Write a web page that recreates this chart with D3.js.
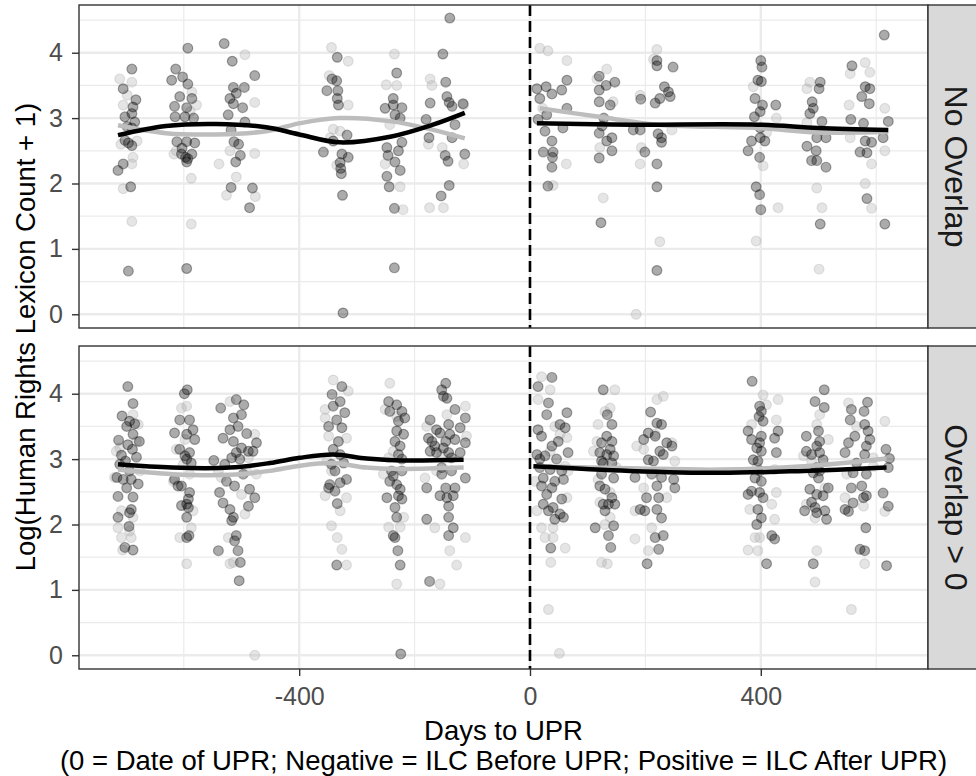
<!DOCTYPE html>
<html>
<head>
<meta charset="utf-8">
<script src="https://cdn.jsdelivr.net/npm/d3@7"></script>
<style>
  body { margin: 0; background: #fff; }
  text { font-family: "Liberation Sans", Arial, sans-serif; }
</style>
</head>
<body>
<svg id="chart" width="976" height="776"></svg>
<script>
// ---- DATA (days to UPR, log(count + 1)) ----
const facets = ["No Overlap", "Overlap > 0"];
const xTicks = [-400, 0, 400];
const xMinor = [-600, -200, 200, 600];
const yTicks = [0, 1, 2, 3, 4];
const yMinor = [0.5, 1.5, 2.5, 3.5, 4.5];

const noOverlapDark = [
  [-690,3.75],[-705,3.45],[-683,3.28],[-688,3.17],[-690,3.07],[-702,3.02],[-685,2.94],[-698,2.87],[-702,2.66],[-690,2.58],[-696,2.62],[-705,2.3],[-714,2.2],[-692,1.95],[-696,0.66],[-690,2.85],
  [-593,4.07],[-614,3.75],[-602,3.63],[-621,3.58],[-593,3.52],[-607,3.33],[-586,3.3],[-616,3.18],[-595,3.16],[-615,3.02],[-598,3.02],[-583,3.0],[-612,2.64],[-595,2.64],[-581,2.62],[-603,2.54],[-604,2.45],[-586,2.45],[-597,2.4],[-595,2.33],[-593,2.38],[-595,0.7],
  [-530,4.14],[-516,3.87],[-477,3.65],[-514,3.47],[-495,3.47],[-509,3.38],[-520,3.3],[-514,3.22],[-498,3.16],[-523,3.05],[-494,2.94],[-518,2.82],[-513,2.64],[-505,2.6],[-502,2.43],[-510,2.33],[-518,1.94],[-481,1.93],[-486,1.63],
  [-334,3.93],[-343,3.6],[-335,3.57],[-352,3.42],[-333,3.42],[-334,3.3],[-332,3.2],[-317,2.74],[-358,2.48],[-326,2.45],[-315,2.4],[-329,2.32],[-328,2.23],[-327,2.15],[-325,1.82],[-324,0.02],[-341,2.65],
  [-231,3.69],[-251,3.15],[-237,3.2],[-222,3.16],[-234,3.05],[-225,3.0],[-222,2.63],[-248,2.55],[-228,2.5],[-246,2.43],[-234,2.33],[-225,2.2],[-248,2.11],[-244,1.95],[-235,1.62],[-235,0.71],[-237,3.3],
  [-151,3.98],[-146,3.55],[-144,3.33],[-173,3.23],[-140,3.24],[-116,3.22],[-135,3.18],[-180,2.98],[-130,2.9],[-175,2.7],[-135,2.7],[-147,2.43],[-142,2.34],[-113,2.45],[-140,1.97],[-154,1.81],[-139,4.53],
  [12,3.45],[28,3.48],[38,3.37],[55,3.43],[17,3.3],[64,3.58],[29,3.05],[14,2.98],[26,2.8],[38,2.65],[40,2.48],[23,2.48],[39,2.4],[38,2.25],[31,1.96],[57,2.85],[64,3.15],
  [120,3.64],[147,3.55],[132,3.5],[120,3.43],[120,3.25],[139,3.2],[128,3.0],[125,2.88],[120,2.77],[142,2.7],[133,2.65],[142,2.5],[120,2.39],[123,1.4],
  [220,3.88],[220,3.8],[248,3.78],[233,3.48],[240,3.4],[243,3.33],[225,3.3],[217,3.23],[192,3.29],[191,2.82],[179,2.82],[222,2.76],[228,2.63],[199,2.48],[220,2.3],[220,1.95],[220,0.67],[228,2.7],
  [400,3.88],[402,3.78],[395,3.58],[401,3.56],[390,3.3],[426,3.2],[403,3.2],[399,3.1],[389,3.02],[399,2.85],[384,2.65],[407,2.65],[399,2.7],[378,2.5],[398,2.4],[392,1.95],[398,1.83],[400,1.6],
  [503,3.55],[501,3.45],[489,3.25],[491,3.15],[485,3.07],[506,2.95],[497,2.7],[513,2.7],[480,2.57],[496,2.5],[488,2.35],[497,2.35],[513,2.25],[503,1.38],
  [558,3.8],[581,3.48],[589,3.45],[575,3.33],[588,3.22],[556,2.98],[578,2.92],[581,2.65],[592,2.63],[572,2.48],[584,2.47],[584,1.77],[621,2.95],[614,4.27],[615,1.38],[612,2.7]
];

const noOverlapLight = [
  [-711,3.6],[-690,3.55],[-705,3.2],[-709,2.6],[-688,2.4],[-690,2.3],[-705,1.92],[-690,1.42],[-698,3.35],[-681,2.65],
  [-613,2.5],[-617,2.45],[-589,3.1],[-586,3.4],[-587,2.08],[-587,1.38],[-578,3.2],
  [-494,3.97],[-477,3.24],[-477,2.46],[-539,2.3],[-526,1.82],[-476,1.8],[-509,2.1],[-520,2.5],
  [-344,4.08],[-315,3.87],[-348,3.65],[-315,3.2],[-341,2.83],[-329,2.8],[-346,2.7],[-335,2.28],
  [-235,3.98],[-249,3.51],[-231,3.5],[-243,2.9],[-225,1.95],[-220,1.6],[-251,2.3],
  [-173,3.6],[-170,3.5],[-176,2.6],[-152,2.55],[-115,2.3],[-174,1.63],[-150,1.63],[-115,3.2],
  [17,4.07],[31,4.03],[64,3.88],[63,2.3],[40,1.97],[22,3.15],
  [133,3.75],[116,3.6],[127,1.78],[144,3.25],[121,2.55],
  [220,4.05],[214,3.9],[191,3.35],[246,2.82],[191,2.3],[225,1.11],[184,0.0],[193,2.55],
  [387,3.48],[427,3.0],[404,2.27],[430,1.63],[392,1.12],[410,2.78],
  [485,3.55],[480,3.45],[497,1.93],[506,1.63],[501,0.69],[480,2.93],
  [581,3.85],[589,3.7],[555,3.68],[553,3.2],[615,3.15],[555,2.7],[615,2.5],[592,2.3],[581,2.0],[592,1.62]
];

const overlapDark = [
  [-697,4.11],[-688,3.85],[-707,3.66],[-694,3.58],[-685,3.54],[-699,3.5],[-688,3.38],[-713,3.29],[-677,3.27],[-697,3.22],[-689,3.15],[-708,3.06],[-682,3.03],[-701,2.97],[-711,2.92],[-694,2.82],[-716,2.72],[-705,2.69],[-691,2.69],[-679,2.62],[-699,2.56],[-714,2.43],[-688,2.42],[-691,2.23],[-694,2.18],[-714,2.11],[-695,1.97],[-702,1.65],[-688,1.61],
  [-594,4.06],[-599,4.0],[-607,3.6],[-590,3.6],[-616,3.4],[-595,3.38],[-584,3.45],[-581,3.3],[-607,3.15],[-590,3.1],[-598,3.05],[-595,3.0],[-587,2.94],[-604,2.59],[-610,2.59],[-590,2.49],[-592,2.39],[-604,2.29],[-595,2.31],[-592,2.26],[-595,2.11],[-591,1.83],[-595,1.8],[-616,2.69],
  [-536,3.78],[-509,3.91],[-496,3.83],[-500,3.68],[-514,3.63],[-506,3.5],[-520,3.45],[-491,3.39],[-532,3.32],[-514,3.27],[-474,3.25],[-500,3.17],[-509,3.1],[-488,3.12],[-480,3.12],[-517,3.02],[-548,2.98],[-529,2.92],[-503,3.0],[-538,2.49],[-512,2.59],[-486,2.54],[-477,2.41],[-532,2.33],[-488,2.28],[-520,2.23],[-514,2.11],[-517,2.06],[-509,1.83],[-512,1.75],[-540,1.6],[-506,1.6],[-502,1.42],[-504,1.14],[-497,2.77],[-526,2.66],
  [-326,4.11],[-343,3.99],[-329,3.88],[-341,3.81],[-321,3.71],[-335,3.6],[-349,3.5],[-326,3.48],[-332,3.27],[-341,3.15],[-329,3.07],[-323,2.94],[-338,2.82],[-318,2.69],[-347,2.61],[-329,2.64],[-349,2.56],[-338,2.51],[-334,2.32],[-335,1.38],[-344,2.92],
  [-245,3.88],[-231,3.83],[-222,3.73],[-243,3.73],[-217,3.63],[-228,3.58],[-231,3.43],[-219,3.38],[-234,3.27],[-225,3.2],[-228,3.07],[-222,3.0],[-240,2.82],[-222,2.82],[-237,2.74],[-243,2.66],[-231,2.61],[-225,2.54],[-248,2.41],[-228,2.44],[-222,2.39],[-231,2.11],[-237,1.83],[-234,1.8],[-229,1.6],[-225,1.38],[-224,0.02],[-234,2.26],
  [-146,4.16],[-153,4.06],[-144,3.93],[-150,3.96],[-130,3.76],[-112,3.63],[-173,3.6],[-141,3.53],[-162,3.45],[-121,3.48],[-176,3.32],[-156,3.4],[-139,3.38],[-170,3.27],[-146,3.27],[-130,3.3],[-165,3.2],[-150,3.17],[-112,3.25],[-173,3.12],[-162,3.1],[-141,3.1],[-136,3.02],[-121,3.1],[-153,2.87],[-136,2.82],[-112,2.71],[-179,2.56],[-130,2.56],[-146,2.56],[-156,2.44],[-144,2.41],[-133,2.44],[-141,2.28],[-141,2.11],[-179,2.08],[-133,1.95],[-141,1.83],[-174,1.13],[-153,2.77],
  [38,4.25],[14,4.11],[32,3.86],[29,3.68],[64,3.71],[14,3.45],[52,3.53],[61,3.48],[20,3.35],[38,3.2],[66,3.1],[12,3.07],[26,3.05],[46,3.0],[17,2.87],[35,2.84],[55,2.82],[23,2.71],[43,2.66],[58,2.69],[20,2.59],[38,2.56],[29,2.46],[55,2.39],[23,2.31],[40,2.26],[32,2.21],[52,2.16],[58,2.11],[43,2.08],[36,1.64],[17,3.0],[49,3.27],
  [127,4.06],[134,3.68],[142,3.53],[133,3.35],[142,3.27],[124,3.25],[139,3.15],[121,3.1],[133,3.07],[145,3.05],[127,2.94],[142,2.94],[124,2.77],[145,2.71],[121,2.59],[130,2.54],[142,2.41],[127,2.31],[147,2.31],[136,2.31],[130,2.21],[113,1.95],[145,1.98],[136,1.83],[140,1.65],[124,2.97],
  [209,3.72],[220,3.55],[228,3.53],[205,3.4],[197,3.3],[217,3.35],[237,3.25],[246,3.2],[225,3.12],[205,2.99],[214,2.97],[231,3.07],[182,2.72],[211,2.77],[228,2.72],[249,2.69],[220,2.59],[251,2.56],[202,2.41],[223,2.41],[191,2.23],[199,2.21],[220,2.23],[228,2.1],[217,1.8],[231,1.83],[223,1.62],[203,1.4],
  [385,4.19],[398,3.81],[401,3.73],[397,3.65],[404,3.58],[378,3.43],[384,3.3],[401,3.35],[398,3.25],[393,3.17],[401,3.12],[387,2.99],[395,2.97],[427,3.1],[424,3.32],[430,3.43],[390,2.71],[401,2.66],[384,2.51],[398,2.49],[378,2.46],[404,2.41],[395,2.23],[401,2.1],[393,2.0],[419,1.83],[424,1.78],[410,1.4],[398,2.82],
  [510,4.06],[494,3.88],[510,3.79],[500,3.43],[479,3.35],[502,3.27],[497,3.2],[479,3.12],[488,3.07],[508,2.99],[497,2.87],[502,2.82],[491,2.79],[500,2.71],[517,2.56],[485,2.54],[497,2.46],[508,2.44],[488,2.34],[476,2.21],[494,2.26],[497,2.18],[511,2.21],[514,2.08],[491,1.4],[502,3.1],
  [585,3.87],[557,3.76],[579,3.73],[555,3.6],[580,3.53],[586,3.43],[563,3.35],[589,3.3],[552,3.25],[583,3.2],[546,3.1],[580,3.07],[566,2.94],[560,2.79],[583,2.77],[557,2.56],[575,2.59],[583,2.44],[578,2.41],[560,2.33],[546,2.23],[552,2.2],[612,2.48],[621,2.28],[582,1.95],[572,1.62],[580,1.6],[618,1.37],[617,3.15],[623,3.01],[621,2.87]
];

const overlapLight = [
  [-688,3.68],[-679,3.53],[-682,3.27],[-711,3.17],[-717,3.12],[-676,2.82],[-720,2.72],[-708,2.21],[-688,2.11],[-714,1.95],[-694,1.9],[-708,1.8],[-691,1.8],[-706,1.61],
  [-595,3.81],[-604,3.78],[-613,3.15],[-601,2.92],[-590,2.77],[-618,2.66],[-584,2.21],[-607,1.8],[-587,1.95],[-595,1.4],[-598,3.3],
  [-520,3.88],[-477,3.38],[-491,2.82],[-474,2.77],[-535,2.72],[-500,2.46],[-494,2.16],[-523,1.8],[-514,1.42],[-520,1.4],[-477,0.0],[-540,2.82],[-488,3.02],
  [-341,4.21],[-355,3.76],[-315,4.04],[-355,3.63],[-318,3.32],[-352,2.97],[-344,2.82],[-355,2.44],[-318,2.41],[-329,2.21],[-344,1.98],[-334,1.8],[-326,1.62],[-318,1.38],[-349,3.35],
  [-243,4.16],[-251,3.76],[-231,3.65],[-237,3.12],[-254,2.77],[-245,1.96],[-225,1.96],[-219,2.11],[-231,1.09],[-245,3.02],
  [-112,3.81],[-144,3.68],[-179,3.5],[-110,3.35],[-153,3.07],[-182,2.71],[-165,1.95],[-139,1.6],[-112,1.8],[-127,1.38],[-156,1.09],[-162,2.82],
  [20,4.26],[35,4.06],[14,3.91],[43,3.5],[52,3.38],[64,3.33],[35,3.12],[61,2.89],[9,2.66],[64,2.41],[12,2.21],[20,1.95],[40,1.95],[26,1.8],[40,1.8],[61,1.64],[36,1.42],[32,0.7],[51,0.03],[66,2.82],
  [147,4.06],[139,3.78],[130,3.73],[118,3.53],[116,3.27],[110,3.12],[150,2.87],[118,2.69],[139,2.49],[121,2.34],[139,2.11],[124,1.42],[134,1.4],[130,2.0],
  [220,3.91],[231,3.96],[217,3.38],[185,3.2],[197,3.15],[246,3.25],[251,2.97],[197,2.56],[237,2.41],[182,2.21],[211,1.95],[182,1.78],[205,1.6],
  [404,3.98],[430,3.91],[410,3.83],[384,3.53],[427,3.6],[393,2.87],[424,2.84],[427,2.49],[381,2.23],[419,2.31],[424,2.08],[390,1.8],[378,1.61],[395,1.6],[398,1.8],
  [502,3.68],[497,3.53],[517,3.3],[474,3.05],[488,2.97],[511,2.56],[494,2.1],[497,1.6],[494,1.12],[479,2.31],
  [552,3.86],[615,3.58],[566,3.5],[595,3.02],[549,2.77],[546,2.41],[578,2.28],[615,2.2],[580,1.4],[557,0.7],[595,2.89]
];

// loess fits, split at day 0
const noOverlapDarkFit = [
  [[-714,2.74],[-631,2.88],[-544,2.91],[-457,2.86],[-400,2.75],[-330,2.63],[-240,2.72],[-168,2.9],[-113,3.08]],
  [[12,2.92],[174,2.9],[395,2.9],[499,2.85],[621,2.82]]
];
const noOverlapLightFit = [
  [[-714,2.89],[-631,2.77],[-544,2.75],[-457,2.8],[-400,2.92],[-330,3.0],[-240,2.95],[-168,2.82],[-113,2.69]],
  [[17,3.15],[120,3.02],[221,2.9],[395,2.85],[499,2.78],[621,2.79]]
];
const overlapDarkFit = [
  [[-714,2.92],[-620,2.87],[-520,2.87],[-451,2.94],[-399,3.02],[-341,3.07],[-283,3.01],[-225,2.98],[-115,2.99]],
  [[6,2.89],[173,2.82],[329,2.79],[474,2.82],[618,2.87]]
];
const overlapLightFit = [
  [[-714,2.84],[-620,2.77],[-520,2.76],[-451,2.82],[-399,2.9],[-341,2.94],[-283,2.87],[-225,2.85],[-115,2.87]],
  [[6,2.89],[173,2.86],[329,2.84],[474,2.89],[618,3.01]]
];

// ---- LAYOUT ----
const panelLeft = 79,
  panelRight = 928,
  panelH = 323,
  panelTops = [5, 346],
  stripW = 60;

const x = d3.scaleLinear().domain([-781.6, 689.8]).range([panelLeft, panelRight]);
const y = d3.scaleLinear().domain([-0.21, 4.73]).range([panelH, 0]);

const svg = d3.select("#chart");

const panels = [
  { label: facets[0], dark: noOverlapDark, light: noOverlapLight, darkFit: noOverlapDarkFit, lightFit: noOverlapLightFit },
  { label: facets[1], dark: overlapDark, light: overlapLight, darkFit: overlapDarkFit, lightFit: overlapLightFit },
];

const line = d3
  .line()
  .x((d) => x(d[0]))
  .y((d) => y(d[1]))
  .curve(d3.curveCatmullRom.alpha(0.5));

// ggplot prints a plain hyphen
const fmt = (d) => String(d);

panels.forEach(function (p, i) {
  const g = svg.append("g").attr("transform", `translate(0,${panelTops[i]})`);

  // grid
  g.selectAll(".ymin")
    .data(yMinor)
    .join("line")
    .attr("x1", panelLeft)
    .attr("x2", panelRight)
    .attr("y1", (d) => y(d))
    .attr("y2", (d) => y(d))
    .attr("stroke", "#ebebeb")
    .attr("stroke-width", 1.2);

  g.selectAll(".xmin")
    .data(xMinor)
    .join("line")
    .attr("x1", (d) => x(d))
    .attr("x2", (d) => x(d))
    .attr("y1", 0)
    .attr("y2", panelH)
    .attr("stroke", "#ebebeb")
    .attr("stroke-width", 1.2);

  g.selectAll(".ymaj")
    .data(yTicks)
    .join("line")
    .attr("x1", panelLeft)
    .attr("x2", panelRight)
    .attr("y1", (d) => y(d))
    .attr("y2", (d) => y(d))
    .attr("stroke", "#ebebeb")
    .attr("stroke-width", 2.4);

  g.selectAll(".xmaj")
    .data(xTicks)
    .join("line")
    .attr("x1", (d) => x(d))
    .attr("x2", (d) => x(d))
    .attr("y1", 0)
    .attr("y2", panelH)
    .attr("stroke", "#ebebeb")
    .attr("stroke-width", 2.4);

  // points
  g.append("g")
    .selectAll("circle")
    .data(p.light)
    .join("circle")
    .attr("cx", (d) => x(d[0]))
    .attr("cy", (d) => y(d[1]))
    .attr("r", 4.9)
    .attr("fill", "#a8a8a8")
    .attr("fill-opacity", 0.3)
    .attr("stroke", "#a8a8a8")
    .attr("stroke-opacity", 0.3)
    .attr("stroke-width", 1.2);

  g.append("g")
    .selectAll("circle")
    .data(p.dark)
    .join("circle")
    .attr("cx", (d) => x(d[0]))
    .attr("cy", (d) => y(d[1]))
    .attr("r", 4.9)
    .attr("fill", "#000")
    .attr("fill-opacity", 0.33)
    .attr("stroke", "#000")
    .attr("stroke-opacity", 0.33)
    .attr("stroke-width", 1.2);

  // UPR date
  g.append("line")
    .attr("x1", x(0))
    .attr("x2", x(0))
    .attr("y1", 0)
    .attr("y2", panelH)
    .attr("stroke", "#000")
    .attr("stroke-width", 2.6)
    .attr("stroke-dasharray", "11,5");

  // smoothers
  g.selectAll(".fitLight")
    .data(p.lightFit)
    .join("path")
    .attr("d", line)
    .attr("fill", "none")
    .attr("stroke", "#bdbdbd")
    .attr("stroke-width", 4.5);

  g.selectAll(".fitDark")
    .data(p.darkFit)
    .join("path")
    .attr("d", line)
    .attr("fill", "none")
    .attr("stroke", "#000")
    .attr("stroke-width", 4.5);

  // border
  g.append("rect")
    .attr("x", panelLeft)
    .attr("y", 0)
    .attr("width", panelRight - panelLeft)
    .attr("height", panelH)
    .attr("fill", "none")
    .attr("stroke", "#333")
    .attr("stroke-width", 1.4);

  // strip
  g.append("rect")
    .attr("x", panelRight)
    .attr("y", 0)
    .attr("width", stripW)
    .attr("height", panelH)
    .attr("fill", "#d9d9d9")
    .attr("stroke", "#333")
    .attr("stroke-width", 1.4);

  g.append("text")
    .attr("transform", `translate(945,${panelH / 2}) rotate(90)`)
    .attr("text-anchor", "middle")
    .attr("font-size", 32)
    .attr("fill", "#1a1a1a")
    .text(p.label);

  // y axis
  const yAxis = g
    .append("g")
    .attr("transform", `translate(${panelLeft},0)`)
    .call(d3.axisLeft(y).tickValues(yTicks).tickSize(7).tickPadding(9).tickFormat(fmt));
  yAxis.select(".domain").remove();
  yAxis.selectAll(".tick line").attr("stroke", "#333").attr("stroke-width", 1.4);
  yAxis.selectAll(".tick text").attr("font-size", 25).attr("fill", "#4d4d4d").attr("font-family", null);

  if (i === panels.length - 1) {
    const xAxis = g
      .append("g")
      .attr("transform", `translate(0,${panelH})`)
      .call(d3.axisBottom(x).tickValues(xTicks).tickSize(7).tickPadding(11).tickFormat(fmt));
    xAxis.select(".domain").remove();
    xAxis.selectAll(".tick line").attr("stroke", "#333").attr("stroke-width", 1.4);
    xAxis.selectAll(".tick text").attr("font-size", 25).attr("fill", "#4d4d4d").attr("font-family", null);
  }
});

// axis titles
svg.append("text")
  .attr("transform", `translate(35,${(panelTops[0] + panelTops[1] + panelH) / 2}) rotate(-90)`)
  .attr("text-anchor", "middle")
  .attr("font-size", 27.5)
  .attr("fill", "#000")
  .text("Log(Human Rights Lexicon Count + 1)");

svg.append("text")
  .attr("x", (panelLeft + panelRight) / 2)
  .attr("y", 740)
  .attr("text-anchor", "middle")
  .attr("font-size", 27.5)
  .attr("fill", "#000")
  .text("Days to UPR");

svg.append("text")
  .attr("x", (panelLeft + panelRight) / 2)
  .attr("y", 770)
  .attr("text-anchor", "middle")
  .attr("font-size", 27.5)
  .attr("fill", "#000")
  .text("(0 = Date of UPR; Negative = ILC Before UPR; Positive = ILC After UPR)");
</script>
</body>
</html>
